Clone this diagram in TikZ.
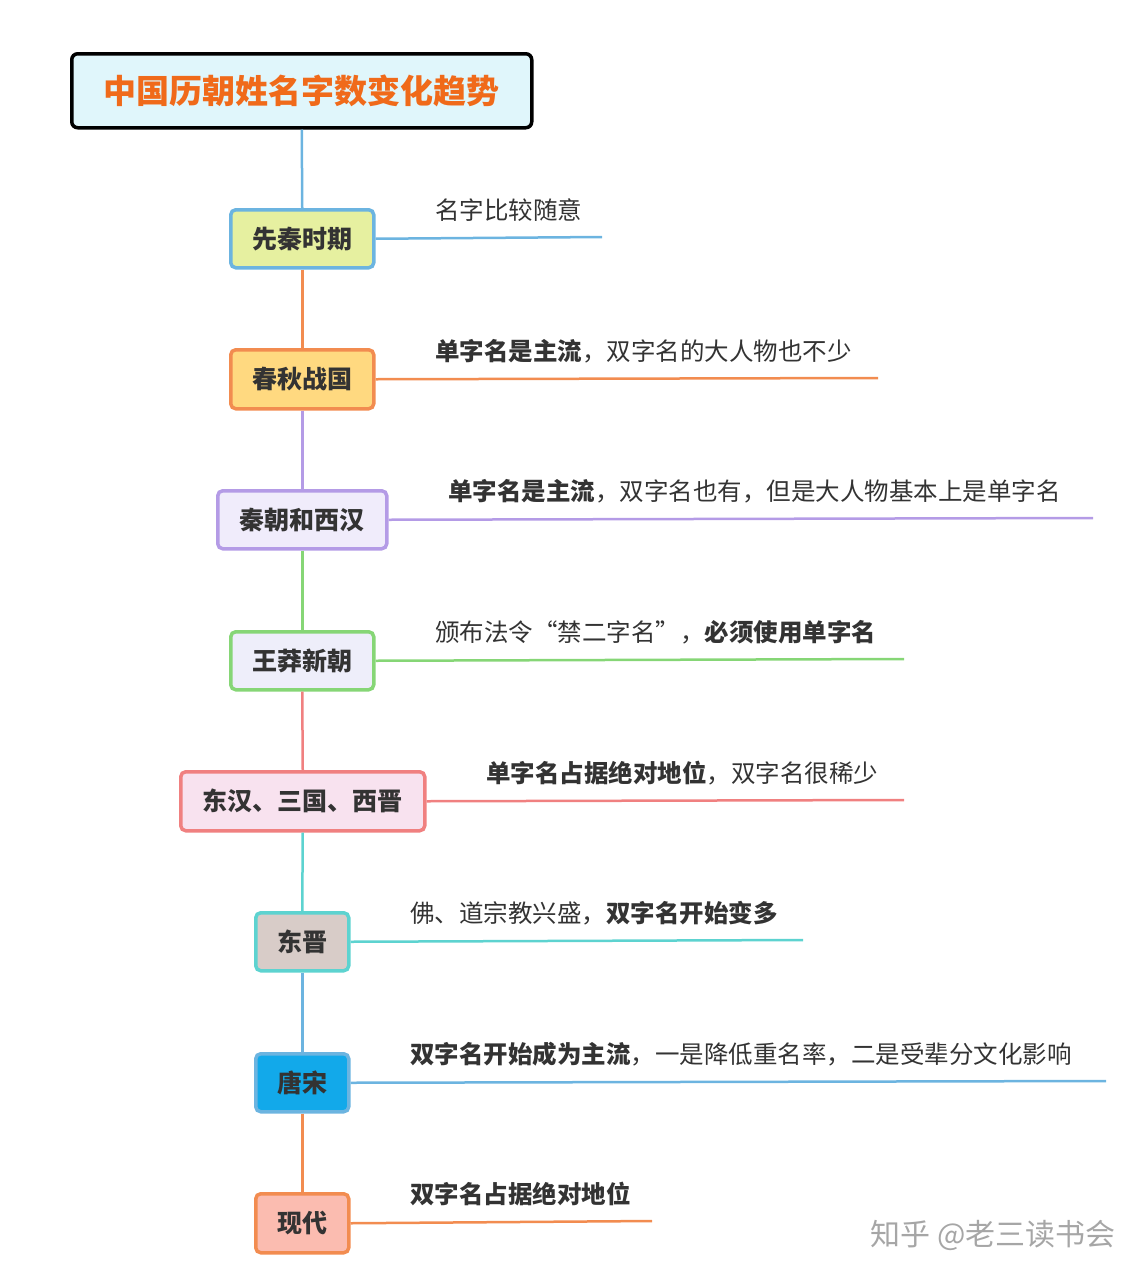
\documentclass[tikz,border=0pt]{standalone}
\usepackage{fontspec}
\setmainfont{Noto Sans CJK SC}
\begin{document}
\begin{tikzpicture}[x=1pt,y=-1pt,
 box/.style={draw=#1,line width=3.5pt,rounded corners=5pt,font=\fontsize{25}{28}\selectfont\bfseries,text=black!80,inner sep=0pt,anchor=north west},
 lab/.style={anchor=west,font=\fontsize{24.5}{28}\selectfont,text=black!80,inner sep=0pt},
 ln/.style={draw=#1,line width=2.5pt}]
\useasboundingbox (0,0) rectangle (1146,1280);
\definecolor{cB}{HTML}{6CB4E0}\definecolor{cO}{HTML}{F28C50}\definecolor{cP}{HTML}{B49BE6}
\definecolor{cG}{HTML}{86D676}\definecolor{cR}{HTML}{F08080}\definecolor{cC}{HTML}{5DD3D0}
\node[draw=black,line width=3.5pt,rounded corners=6pt,fill={rgb,255:red,224;green,246;blue,251},minimum width=460pt,minimum height=74pt,anchor=north west,font=\fontsize{33}{36}\selectfont\bfseries,text={rgb,255:red,240;green,106;blue,26}] (t) at (70,52) {中国历朝姓名字数变化趋势};
\node[box=cB,fill={rgb,255:red,230;green,240;blue,160},minimum width=143pt,minimum height=58pt] (n1) at (229,208) {先秦时期};
\node[box=cO,fill={rgb,255:red,255;green,217;blue,128},minimum width=143pt,minimum height=59pt] (n2) at (229,348) {春秋战国};
\node[box=cP,fill={rgb,255:red,240;green,236;blue,251},minimum width=169pt,minimum height=58pt] (n3) at (216,489) {秦朝和西汉};
\node[box=cG,fill={rgb,255:red,238;green,238;blue,250},minimum width=143pt,minimum height=58pt] (n4) at (229,630) {王莽新朝};
\node[box=cR,fill={rgb,255:red,248;green,226;blue,239},minimum width=244pt,minimum height=59pt] (n5) at (179,770) {东汉、三国、西晋};
\node[box=cC,fill={rgb,255:red,216;green,204;blue,200},minimum width=93pt,minimum height=58pt] (n6) at (254,911) {东晋};
\node[box=cB,fill={rgb,255:red,18;green,169;blue,234},minimum width=93pt,minimum height=58pt] (n7) at (254,1052) {唐宋};
\node[box=cO,fill={rgb,255:red,251;green,188;blue,176},minimum width=93pt,minimum height=59pt] (n8) at (254,1192) {现代};
\draw[ln=cB] (t.south) -- (n1.north);
\draw[ln=cO] (n1.south) -- (n2.north);
\draw[ln=cP] (n2.south) -- (n3.north);
\draw[ln=cG] (n3.south) -- (n4.north);
\draw[ln=cR] (n4.south) -- (n5.north);
\draw[ln=cC] (n5.south) -- (n6.north);
\draw[ln=cB] (n6.south) -- (n7.north);
\draw[ln=cO] (n7.south) -- (n8.north);
\coordinate (e1) at (602,237);\coordinate (e2) at (878,378);\coordinate (e3) at (1093,518);
\coordinate (e4) at (904,659);\coordinate (e5) at (904,800);\coordinate (e6) at (803,940);
\coordinate (e7) at (1106,1081);\coordinate (e8) at (652,1221);
\draw[ln=cB] (n1.east) -- (e1);
\draw[ln=cO] (n2.east) -- (e2);
\draw[ln=cP] (n3.east) -- (e3);
\draw[ln=cG] (n4.east) -- (e4);
\draw[ln=cR] (n5.east) -- (e5);
\draw[ln=cC] (n6.east) -- (e6);
\draw[ln=cB] (n7.east) -- (e7);
\draw[ln=cO] (n8.east) -- (e8);
\node[lab] (l1) at (435,210) {名字比较随意};
\node[lab] (l2) at (435,351) {\textbf{单字名是主流}，双字名的大人物也不少};
\node[lab] (l3) at (448,491) {\textbf{单字名是主流}，双字名也有，但是大人物基本上是单字名};
\node[lab] (l4) at (435,632) {颁布法令“禁二字名”，\textbf{必须使用单字名}};
\node[lab] (l5) at (486,773) {\textbf{单字名占据绝对地位}，双字名很稀少};
\node[lab] (l6) at (410,913) {佛、道宗教兴盛，\textbf{双字名开始变多}};
\node[lab] (l7) at (410,1054) {\textbf{双字名开始成为主流}，一是降低重名率，二是受辈分文化影响};
\node[lab] (l8) at (410,1194) {\textbf{双字名占据绝对地位}};
\node[anchor=east,inner sep=0pt,font=\fontsize{30}{32}\selectfont,text=black!35] (w) at (1116,1235) {知乎 @老三读书会};
\end{tikzpicture}
\end{document}
